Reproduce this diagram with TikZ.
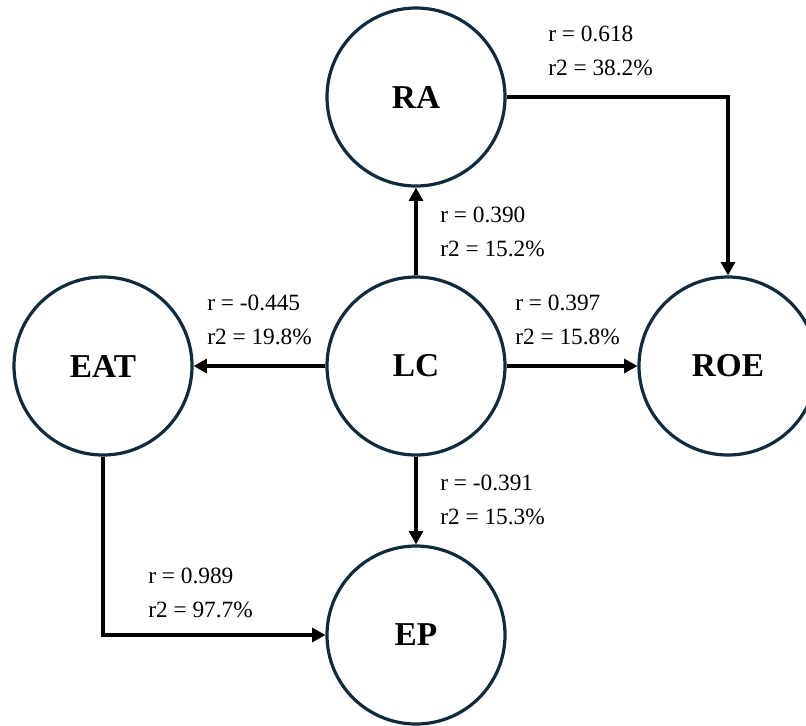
\documentclass[tikz,border=0pt]{standalone}
\usepackage{fontspec}
\setmainfont{Liberation Serif}
\usetikzlibrary{arrows.meta}
\definecolor{ring}{HTML}{0F2B3C}
\begin{document}
\begin{tikzpicture}[x=0.75pt,y=-0.75pt,
  var/.style={circle,draw=ring,line width=2.4pt,minimum size=133.5pt,inner sep=0pt,font=\fontsize{25}{30}\selectfont\bfseries},
  lbl/.style={anchor=west,align=left,inner sep=0pt,font=\fontsize{17.5}{25}\selectfont},
  link/.style={line width=2.3pt,-{Triangle[length=10pt,width=10.5pt]}}]
\useasboundingbox (0,0) rectangle (806,725);
\node[var] (RA) at (416,97) {RA};
\node[var] (LC) at (416,366) {LC};
\node[var] (EAT) at (103,366) {EAT};
\node[var] (ROE) at (728,366) {ROE};
\node[var] (EP) at (416,635) {EP};
\draw[link] (RA.east) -| (ROE.north);
\draw[link] (LC.north) -- (RA.south);
\draw[link] (LC.west) -- (EAT.east);
\draw[link] (LC.east) -- (ROE.west);
\draw[link] (LC.south) -- (EP.north);
\draw[link] (EAT.south) |- (EP.west);
\node[lbl] (l1) at (548,51) {r = 0.618\\r2 = 38.2\%};
\node[lbl] (l2) at (440,232) {r = 0.390\\r2 = 15.2\%};
\node[lbl] (l3) at (207,320) {r = -0.445\\r2 = 19.8\%};
\node[lbl] (l4) at (515,320) {r = 0.397\\r2 = 15.8\%};
\node[lbl] (l5) at (440,500) {r = -0.391\\r2 = 15.3\%};
\node[lbl] (l6) at (148,593) {r = 0.989\\r2 = 97.7\%};
\end{tikzpicture}
\end{document}
